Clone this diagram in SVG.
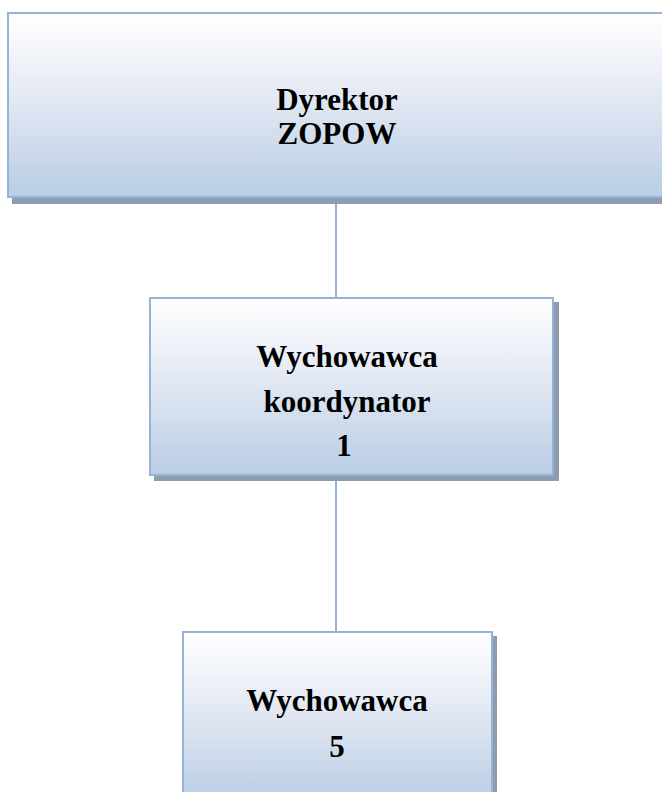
<svg xmlns="http://www.w3.org/2000/svg" width="662" height="792" viewBox="0 0 662 792">
<style>
.box{fill:url(#g);stroke:#95b3d7;stroke-width:2}
.sh{fill:#8e9cb0}
.t{font-family:"Liberation Serif","Times New Roman",serif;font-weight:bold;font-size:31px;fill:#000;text-anchor:middle}
.c{stroke:#95b3d7;stroke-width:2;fill:none}
</style>
<defs>
<linearGradient id="g" x1="0" y1="0" x2="0" y2="1">
<stop offset="0" stop-color="#ffffff"/>
<stop offset="0.45" stop-color="#e3e9f3"/>
<stop offset="1" stop-color="#b9cde5"/>
</linearGradient>
</defs>
<g id="connectors">
<line class="c" x1="336" y1="204" x2="336" y2="298"/>
<line class="c" x1="336" y1="481" x2="336" y2="632"/>
</g>
<g id="dyrektor">
<rect class="sh" x="12" y="17" width="660" height="187"/>
<rect class="box" x="8" y="13" width="660" height="184"/>
<text class="t" x="337" y="110">Dyrektor</text>
<text class="t" x="337" y="144">ZOPOW</text>
</g>
<g id="koordynator">
<rect class="sh" x="154" y="302" width="405" height="179"/>
<rect class="box" x="150" y="298" width="403" height="177"/>
<text class="t" x="347" y="367">Wychowawca</text>
<text class="t" x="347" y="412">koordynator</text>
<text class="t" x="344" y="456">1</text>
</g>
<g id="wychowawca">
<rect class="sh" x="187" y="636" width="310" height="170"/>
<rect class="box" x="183" y="632" width="309" height="170"/>
<text class="t" x="337" y="711">Wychowawca</text>
<text class="t" x="337" y="757">5</text>
</g>
</svg>
